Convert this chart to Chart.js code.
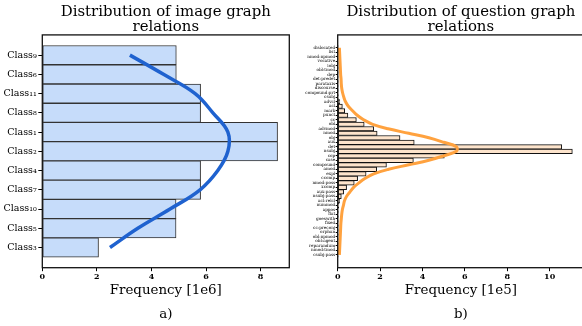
<!DOCTYPE html>
<html>
<head>
<meta charset="utf-8">
<script src="https://cdn.jsdelivr.net/npm/chart.js@4.4.1/dist/chart.umd.min.js"></script>
<style>
  html, body { margin: 0; padding: 0; background: #fff; overflow: hidden; width: 582px; height: 326px; }
  #left { position: absolute; left: 0; top: 0; }
  #right { position: absolute; left: 291px; top: 0; }
</style>
</head>
<body>
<canvas id="left" width="291" height="326"></canvas>
<canvas id="right" width="296" height="326"></canvas>
<script>
// ---------------------------------------------------------------
// data
// ---------------------------------------------------------------
const imageLabels = ["Class₉", "Class₆", "Class₁₁", "Class₈", "Class₁", "Class₂",
                     "Class₄", "Class₇", "Class₁₀", "Class₅", "Class₃"];
const imageFreq = [4.91, 4.91, 5.80, 5.80, 8.62, 8.62, 5.80, 5.80, 4.90, 4.90, 2.06];   // 1e6
const imageCurve = [3.21, 4.44, 5.60, 6.25, 6.80, 6.80, 6.43, 5.78, 4.68, 3.50, 2.48];
const imageTicks = [0, 2, 4, 6, 8];

const questionLabels = ["dislocated", "list", "nmod:npmod", "vocative", "iobj", "obl:tmod",
  "dep", "det:predet", "parataxis", "discourse", "compound:prt", "csubj", "advcl", "acl",
  "mark", "punct", "cc", "obl", "advmod", "nmod", "obj", "aux", "det", "nsubj", "cop",
  "case", "compound", "amod", "expl", "ccomp", "nmod:poss", "xcomp", "aux:pass",
  "nsubj:pass", "acl:relcl", "nummod", "appos", "flat", "goeswith", "fixed", "cc:preconj",
  "orphan", "obl:npmod", "obl:agent", "reparandum", "nmod:tmod", "csubj:pass"];
const questionFreq = [0.01, 0.01, 0.01, 0.01, 0.01, 0.01, 0.01, 0.01, 0.01, 0.01, 0.02, 0.03,
  0.10, 0.22, 0.33, 0.48, 0.88, 1.25, 1.70, 1.86, 2.94, 3.61, 10.57, 11.07, 5.03, 3.57,
  2.30, 1.84, 1.34, 0.94, 0.78, 0.42, 0.28, 0.17, 0.09, 0.05, 0.03, 0.02, 0.01, 0.01,
  0.01, 0.01, 0.01, 0.01, 0.01, 0.01, 0.01];   // 1e5
const questionCurve = [0.08, 0.09, 0.10, 0.11, 0.12, 0.13, 0.14, 0.16, 0.17, 0.19, 0.23,
  0.29, 0.37, 0.50, 0.70, 0.92, 1.22, 1.65, 2.38, 3.35, 4.30, 5.00, 5.60, 5.60, 5.00,
  4.30, 3.35, 2.40, 1.70, 1.30, 1.00, 0.75, 0.58, 0.42, 0.32, 0.27, 0.22, 0.19, 0.17,
  0.15, 0.14, 0.13, 0.12, 0.11, 0.10, 0.09, 0.08];
const questionTicks = [0, 2, 4, 6, 8, 10];

const SERIF = "'DejaVu Serif', serif";

// frame around the plot area
const frame = {
    id: "frame",
    afterDraw(chart) {
        const { ctx, chartArea: a } = chart;
        ctx.save();
        ctx.strokeStyle = "#111";
        ctx.lineWidth = 1.3;
        ctx.strokeRect(a.left, a.top, a.right - a.left, a.bottom - a.top);
        ctx.restore();
    }
};

// ---------------------------------------------------------------
// one horizontal histogram + fitted curve
// ---------------------------------------------------------------
function makeChart(id, o) {
    const n = o.labels.length;
    const pad = 0.5 + 0.05 * n;   // margins like the reference
    new Chart(document.getElementById(id), {
        type: "bar",
        data: {
            datasets: [
                {
                    type: "line",
                    indexAxis: "y",
                    data: o.curve.map((v, i) => ({ x: v, y: i })),
                    borderColor: o.lineColor,
                    borderWidth: o.lineWidth,
                    pointRadius: 0,
                    tension: 0.4,
                    fill: false,
                    order: 0
                },
                {
                    type: "bar",
                    indexAxis: "y",
                    data: o.freq.map((v, i) => ({ x: v, y: i })),
                    backgroundColor: o.barColor,
                    borderColor: o.edgeColor,
                    borderWidth: 1,
                    borderSkipped: false,
                    barPercentage: 1,
                    categoryPercentage: 1,
                    order: 1
                }
            ]
        },
        options: {
            responsive: false,
            animation: false,
            indexAxis: "y",
            layout: { padding: { left: 0, right: o.padRight, top: 0, bottom: 0 } },
            plugins: {
                legend: { display: false },
                tooltip: { enabled: false },
                title: {
                    display: true,
                    fullSize: false,
                    text: o.title,
                    color: "#000",
                    font: { family: SERIF, size: 14.9, weight: "normal", lineHeight: 0.97 },
                    padding: { top: 5, bottom: 1 }
                }
            },
            scales: {
                x: {
                    type: "linear",
                    min: 0,
                    max: o.xMax,
                    afterBuildTicks: s => { s.ticks = o.ticks.map(v => ({ value: v })); },
                    ticks: { color: "#000", font: { family: SERIF, size: 8, weight: "bold" }, padding: 1 },
                    grid: { drawOnChartArea: false, tickLength: 3.5, color: "#000" },
                    border: { display: false },
                    title: {
                        display: true,
                        text: [o.xTitle, o.tag],
                        color: "#000",
                        font: { family: SERIF, size: 13.4, lineHeight: 1.75 },
                        padding: { top: 0, bottom: 0 }
                    },
                    afterFit: s => { s.height = 58.3; }
                },
                y: {
                    type: "linear",
                    reverse: true,
                    offset: false,
                    min: -pad,
                    max: n - 1 + pad,
                    afterBuildTicks: s => { s.ticks = o.labels.map((_, i) => ({ value: i })); },
                    ticks: {
                        autoSkip: false,
                        color: "#000",
                        font: { family: SERIF, size: o.labelSize },
                        padding: o.labelPad,
                        callback: v => o.labels[v]
                    },
                    grid: { offset: false, drawOnChartArea: false, tickLength: o.yTick, color: "#000" },
                    border: { display: false },
                    afterFit: s => { s.width = o.yWidth; }
                }
            }
        },
        plugins: [frame]
    });
}

makeChart("left", {
    labels: imageLabels, freq: imageFreq, curve: imageCurve, ticks: imageTicks,
    title: ["Distribution of image graph", "relations"],
    xTitle: "Frequency [1e6]", tag: "a)",
    xMax: 9.05, yWidth: 42.3, padRight: 1.7,
    labelSize: 9.5, labelPad: 1.5, yTick: 4,
    barColor: "#c6dcfa", edgeColor: "#333", lineColor: "#1f62cf", lineWidth: 3.5
});

makeChart("right", {
    labels: questionLabels, freq: questionFreq, curve: questionCurve, ticks: questionTicks,
    title: ["Distribution of question graph", "relations"],
    xTitle: "Frequency [1e5]", tag: "b)",
    xMax: 11.62, yWidth: 46.7, padRight: 3,
    labelSize: 4.2, labelPad: 0.5, yTick: 2,
    barColor: "#fde4cc", edgeColor: "#111", lineColor: "#ffa23f", lineWidth: 3
});
</script>
</body>
</html>
